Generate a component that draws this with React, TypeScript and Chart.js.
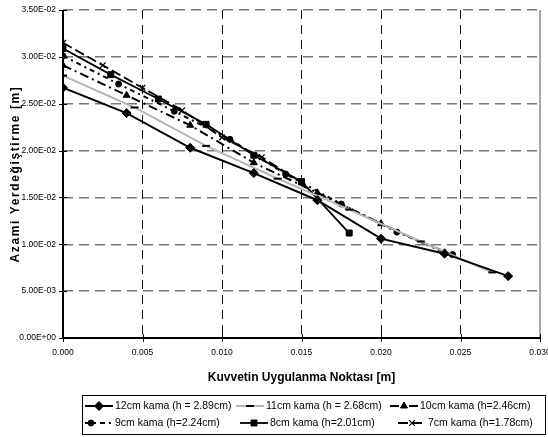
import React, { useEffect, useRef } from 'react';
import { Chart, registerables } from 'chart.js';
import { drawPoint } from 'chart.js/helpers';

Chart.register(...registerables);

// ---- data ----
const seriesNames = [
  '12cm kama (h = 2.89cm)',
  '11cm kama (h = 2.68cm)',
  '10cm kama (h=2.46cm)',
  '9cm kama (h=2.24cm)',
  '8cm kama (h=2.01cm)',
  '7cm kama (h=1.78cm)',
];
const xs12 = [0, 0.004, 0.008, 0.012, 0.016, 0.020, 0.024, 0.028];
const ys12 = [0.0267, 0.0240, 0.0203, 0.0176, 0.0147, 0.0106, 0.0090, 0.0066];
const xs11 = [0, 0.0045, 0.009, 0.0135, 0.018, 0.0225, 0.027];
const ys11 = [0.0280, 0.0246, 0.0205, 0.0170, 0.0137, 0.0103, 0.0070];
const xs10 = [0, 0.004, 0.008, 0.012, 0.016, 0.020, 0.024];
const ys10 = [0.0291, 0.0259, 0.0227, 0.0187, 0.0155, 0.0122, 0.0091];
const xs9 = [0, 0.0035, 0.007, 0.0105, 0.014, 0.0175, 0.021, 0.0245];
const ys9 = [0.0301, 0.0271, 0.0242, 0.0212, 0.0175, 0.0143, 0.0113, 0.0089];
const xs8 = [0, 0.003, 0.006, 0.009, 0.012, 0.015, 0.018];
const ys8 = [0.0309, 0.0281, 0.0255, 0.0228, 0.0195, 0.0167, 0.0112];
const xs7 = [0, 0.0025, 0.005, 0.0075, 0.010, 0.0125, 0.015];
const ys7 = [0.0315, 0.0291, 0.0267, 0.0243, 0.0214, 0.0193, 0.0166];

const xTitle = 'Kuvvetin Uygulanma Noktası [m]';
const yTitle = 'Azami Yerdeğiştirme [m]';

const SANS = '"Liberation Sans", Arial, sans-serif';

const pts = (xs: number[], ys: number[]) => xs.map((x, i) => ({ x, y: ys[i] }));

const fmtExp = (v: number) => {
  if (Math.abs(v) < 1e-12) return '0.00E+00';
  const s = v.toExponential(2).toUpperCase();
  const m = s.match(/^(.*)E([+-])(\d+)$/);
  if (!m) return s;
  return `${m[1]}E${m[2]}${m[3].padStart(2, '0')}`;
};

const framePlugin = {
  id: 'frame',
  afterDraw(chart: any) {
    const { ctx, chartArea: a } = chart;
    const xs = chart.scales.x;
    const ys = chart.scales.y;
    ctx.save();
    // right border
    ctx.strokeStyle = '#a8a8a8';
    ctx.lineWidth = 2;
    ctx.beginPath();
    ctx.moveTo(a.right, a.top);
    ctx.lineTo(a.right, a.bottom);
    ctx.stroke();
    // axes
    ctx.strokeStyle = '#000';
    ctx.lineWidth = 2;
    ctx.beginPath();
    ctx.moveTo(a.left, a.top);
    ctx.lineTo(a.left, a.bottom + 1);
    ctx.moveTo(a.left - 1, a.bottom);
    ctx.lineTo(a.right, a.bottom);
    ctx.stroke();
    // tick crosses
    ctx.lineWidth = 1;
    ys.ticks.forEach((t: any) => {
      const y = Math.round(ys.getPixelForValue(t.value)) + 0.5;
      ctx.beginPath();
      ctx.moveTo(a.left - 4, y);
      ctx.lineTo(a.left + 4, y);
      ctx.stroke();
    });
    xs.ticks.forEach((t: any) => {
      const x = Math.round(xs.getPixelForValue(t.value)) + 0.5;
      ctx.beginPath();
      ctx.moveTo(x, a.bottom - 4);
      ctx.lineTo(x, a.bottom + 4);
      ctx.stroke();
    });
    // titles
    ctx.fillStyle = '#000';
    ctx.font = `bold 12px ${SANS}`;
    ctx.textAlign = 'center';
    ctx.textBaseline = 'middle';
    ctx.fillText(xTitle, (a.left + a.right) / 2, 378);
    ctx.save();
    ctx.translate(16, 174);
    ctx.rotate(-Math.PI / 2);
    try { (ctx as any).letterSpacing = '1.6px'; } catch (e) {}
    ctx.fillText(yTitle, 0, 0);
    ctx.restore();

    // legend
    const L = 82, R = 545, T = 395, B = 434;
    ctx.strokeStyle = '#000';
    ctx.lineWidth = 1;
    ctx.strokeRect(L + 0.5, T + 0.5, R - L, B - T);
    const colStarts = [85, 236, 390];
    const rowsY = [406, 423];
    chart.data.datasets.forEach((ds: any, i: number) => {
      const s = colStarts[i % 3] + (i === 5 ? 8 : i === 4 ? 4 : 0);
      const y = rowsY[Math.floor(i / 3)];
      const e = s + 28;
      const m = i === 3 ? s + 6 : (s + e) / 2;
      ctx.save();
      ctx.strokeStyle = ds.borderColor;
      ctx.lineWidth = ds.borderWidth;
      ctx.setLineDash(ds.borderDash || []);
      ctx.beginPath();
      ctx.moveTo(s, y);
      ctx.lineTo(e, y);
      ctx.stroke();
      ctx.setLineDash([]);
      ctx.fillStyle = ds.pointBackgroundColor;
      ctx.strokeStyle = ds.pointBorderColor;
      ctx.lineWidth = ds.pointBorderWidth;
      drawPoint(ctx, { pointStyle: ds.pointStyle, radius: ds.pointRadius, rotation: 0, borderWidth: ds.pointBorderWidth }, m, y);
      ctx.restore();
      ctx.fillStyle = '#000';
      ctx.font = `10.5px ${SANS}`;
      ctx.textAlign = 'left';
      ctx.textBaseline = 'middle';
      ctx.fillText(ds.label, e + 2, y + 0.5);
    });
    ctx.restore();
  },
};

export default function App() {
  const ref = useRef<HTMLCanvasElement | null>(null);
  useEffect(() => {
    if (!ref.current) return;
    const base = { showLine: true, fill: false, borderColor: '#000', pointBackgroundColor: '#000', pointBorderColor: '#000', pointBorderWidth: 1 };
    const chart = new Chart(ref.current, {
      type: 'scatter',
      data: {
        datasets: [
          { ...base, label: seriesNames[0], data: pts(xs12, ys12), borderWidth: 2, pointStyle: 'rectRot', pointRadius: 4.5 },
          { ...base, label: seriesNames[1], data: pts(xs11, ys11), borderColor: '#b4b4b4', borderWidth: 2, pointStyle: 'line', pointRadius: 4, pointBorderWidth: 2 },
          { ...base, label: seriesNames[2], data: pts(xs10, ys10), borderWidth: 2, borderDash: [9, 4, 2, 4], pointStyle: 'triangle', pointRadius: 4 },
          { ...base, label: seriesNames[3], data: pts(xs9, ys9), borderWidth: 2, borderDash: [5, 4, 2, 4], pointStyle: 'circle', pointRadius: 3 },
          { ...base, label: seriesNames[4], data: pts(xs8, ys8), borderWidth: 1.8, pointStyle: 'rect', pointRadius: 4.2 },
          { ...base, label: seriesNames[5], data: pts(xs7, ys7), borderWidth: 1.8, borderDash: [10, 4], pointStyle: 'crossRot', pointRadius: 4, pointBorderWidth: 1.2 },
        ],
      } as any,
      options: {
        animation: false,
        responsive: false,
        maintainAspectRatio: false,
        layout: { padding: { left: 0, right: 8, top: 10, bottom: 0 } },
        plugins: { legend: { display: false }, tooltip: { enabled: false } },
        scales: {
          x: {
            type: 'linear',
            min: 0,
            max: 0.03,
            afterFit: (s: any) => { s.height = 99; s.paddingRight = 0; s.paddingLeft = 0; },
            ticks: { stepSize: 0.005, callback: (v: any) => Number(v).toFixed(3), color: '#000', font: { family: SANS, size: 8.5 }, padding: 10, maxRotation: 0 },
            grid: { color: '#111', lineWidth: 1, drawTicks: false },
            border: { display: false, dash: [9, 6] },
          },
          y: {
            type: 'linear',
            min: 0,
            max: 0.035,
            afterFit: (s: any) => { s.width = 63; s.paddingTop = 0; s.paddingBottom = 0; },
            ticks: { stepSize: 0.005, callback: (v: any) => fmtExp(Number(v)), color: '#000', font: { family: SANS, size: 8.5 }, padding: 7 },
            grid: { color: '#777', lineWidth: 1.5, drawTicks: false },
            border: { display: false, dash: [10, 6] },
          },
        },
      } as any,
      plugins: [framePlugin],
    });
    return () => chart.destroy();
  }, []);
  return (
    <div style={{ position: 'fixed', left: 0, top: 0, width: 548, height: 437, background: '#fff' }}>
      <canvas ref={ref} width={548} height={437} style={{ width: 548, height: 437, display: 'block' }} />
    </div>
  );
}
